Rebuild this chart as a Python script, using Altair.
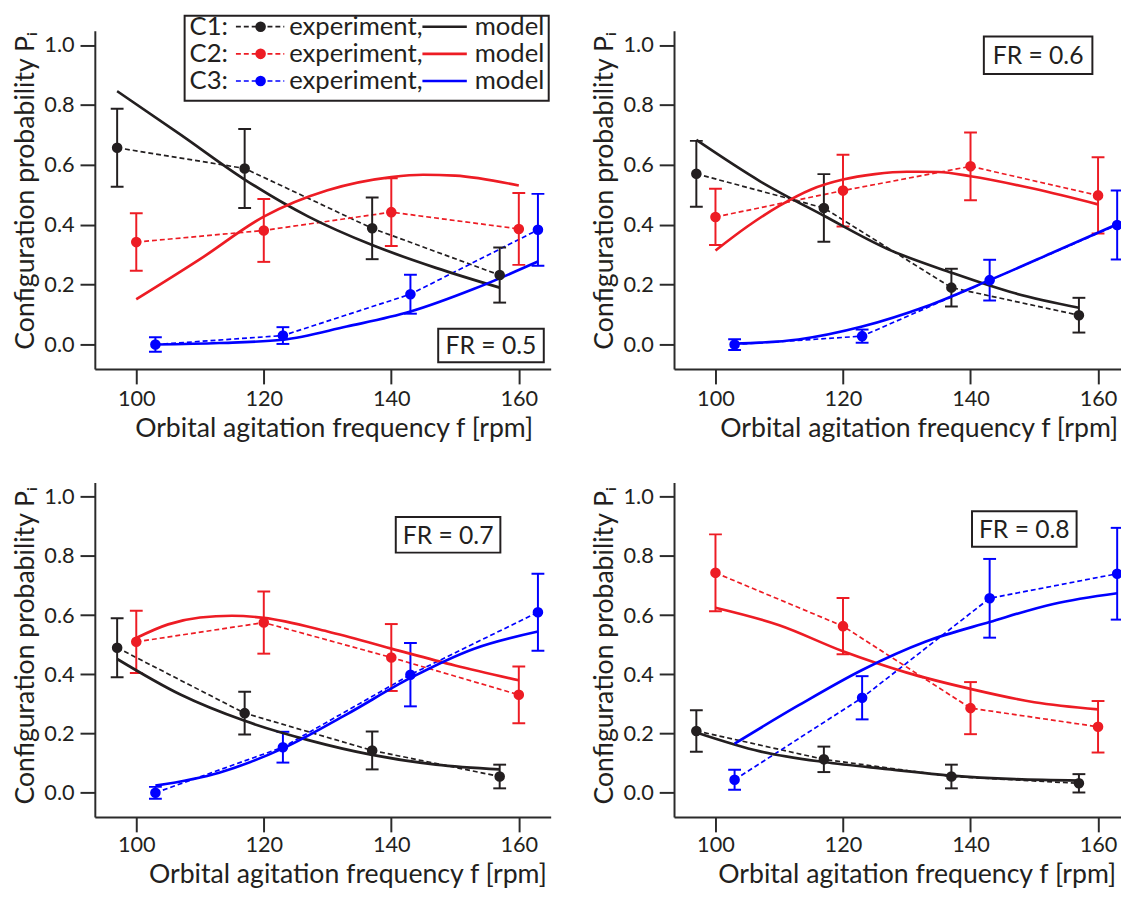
import altair as alt
import pandas as pd

# ---------------- data ----------------
CONFIGS = ["C1", "C2", "C3"]
COLORS = ["#231f20", "#ed1c24", "#0000ff"]
FR_LABELS = ["FR = 0.5", "FR = 0.6", "FR = 0.7", "FR = 0.8"]

# experiment frequencies (rpm) as plotted (C1/C3 slightly shifted)
F_C1 = [97, 117, 137, 157]
F_C2 = [100, 120, 140, 160]
F_C3 = [103, 123, 143, 163]

# FR = 0.5
EXP05_C1 = [0.657, 0.588, 0.388, 0.232]
ERR05_C1 = [0.130, 0.132, 0.103, 0.092]
EXP05_C2 = [0.342, 0.381, 0.442, 0.386]
ERR05_C2 = [0.096, 0.105, 0.113, 0.120]
EXP05_C3 = [0.000, 0.030, 0.168, 0.383]
ERR05_C3 = [0.024, 0.028, 0.065, 0.120]
# FR = 0.6
EXP06_C1 = [0.570, 0.456, 0.190, 0.098]
ERR06_C1 = [0.110, 0.113, 0.063, 0.058]
EXP06_C2 = [0.426, 0.514, 0.595, 0.498]
ERR06_C2 = [0.094, 0.120, 0.113, 0.127]
EXP06_C3 = [0.000, 0.028, 0.215, 0.399]
ERR06_C3 = [0.018, 0.022, 0.068, 0.115]
# FR = 0.7
EXP07_C1 = [0.490, 0.269, 0.143, 0.055]
ERR07_C1 = [0.100, 0.072, 0.064, 0.040]
EXP07_C2 = [0.510, 0.575, 0.457, 0.331]
ERR07_C2 = [0.105, 0.105, 0.113, 0.096]
EXP07_C3 = [0.000, 0.154, 0.399, 0.610]
ERR07_C3 = [0.020, 0.052, 0.107, 0.130]
# FR = 0.8
EXP08_C1 = [0.209, 0.113, 0.055, 0.032]
ERR08_C1 = [0.070, 0.043, 0.040, 0.031]
EXP08_C2 = [0.743, 0.563, 0.286, 0.223]
ERR08_C2 = [0.130, 0.095, 0.088, 0.087]
EXP08_C3 = [0.044, 0.321, 0.657, 0.740]
ERR08_C3 = [0.034, 0.073, 0.133, 0.155]

# model curves
MF_C1 = [97, 107, 117, 127, 137, 147, 157]
MF_C3 = [103, 113, 123, 133, 143, 153, 163]
MOD05_C1 = [0.846, 0.700, 0.551, 0.427, 0.332, 0.256, 0.190]
MF05_C2 = [100, 110, 120, 130, 140, 145, 150, 160]
MOD05_C2 = [0.151, 0.285, 0.427, 0.515, 0.559, 0.567, 0.564, 0.531]
MOD05_C3 = [0.000, 0.005, 0.016, 0.060, 0.110, 0.186, 0.277]

MOD06_C1 = [0.683, 0.545, 0.430, 0.319, 0.240, 0.171, 0.123]
MF06_C2 = [100, 105, 110, 115, 120, 125, 130, 135, 140, 150, 160]
MOD06_C2 = [0.314, 0.394, 0.463, 0.518, 0.551, 0.569, 0.577, 0.576, 0.562, 0.520, 0.468]
MOD06_C3 = [0.003, 0.017, 0.060, 0.127, 0.215, 0.308, 0.402]

MOD07_C1 = [0.452, 0.331, 0.243, 0.178, 0.128, 0.095, 0.079]
MF07_C2 = [100, 105, 110, 115, 120, 130, 140, 150, 160]
MOD07_C2 = [0.523, 0.569, 0.592, 0.598, 0.591, 0.545, 0.487, 0.430, 0.380]
MOD07_C3 = [0.024, 0.068, 0.150, 0.265, 0.388, 0.487, 0.545]

MOD08_C1 = [0.204, 0.140, 0.104, 0.080, 0.058, 0.046, 0.041]
MF08_C2 = [100, 110, 120, 130, 140, 150, 160]
MOD08_C2 = [0.625, 0.566, 0.478, 0.406, 0.351, 0.306, 0.282]
MOD08_C3 = [0.166, 0.295, 0.415, 0.511, 0.577, 0.638, 0.674]

PANELS = [
    dict(exp=[EXP05_C1, EXP05_C2, EXP05_C3], err=[ERR05_C1, ERR05_C2, ERR05_C3],
         mf=[MF_C1, MF05_C2, MF_C3], mod=[MOD05_C1, MOD05_C2, MOD05_C3]),
    dict(exp=[EXP06_C1, EXP06_C2, EXP06_C3], err=[ERR06_C1, ERR06_C2, ERR06_C3],
         mf=[MF_C1, MF06_C2, MF_C3], mod=[MOD06_C1, MOD06_C2, MOD06_C3]),
    dict(exp=[EXP07_C1, EXP07_C2, EXP07_C3], err=[ERR07_C1, ERR07_C2, ERR07_C3],
         mf=[MF_C1, MF07_C2, MF_C3], mod=[MOD07_C1, MOD07_C2, MOD07_C3]),
    dict(exp=[EXP08_C1, EXP08_C2, EXP08_C3], err=[ERR08_C1, ERR08_C2, ERR08_C3],
         mf=[MF_C1, MF08_C2, MF_C3], mod=[MOD08_C1, MOD08_C2, MOD08_C3]),
]
EXP_F = [F_C1, F_C2, F_C3]

# ---------------- layout / style ----------------
FONT = "Lato"
TXT = "#231f20"
AX = "#2b2b2b"
H_TOP, H_BOT = 343, 339
WL, WR = 462, 453
XDOM_L = [93.5, 165.0]
XDOM_R = [93.5, 163.6]
YDOM = [-0.082, 1.048]
TITLE_X = [242, 248, 256, 246]
FR_BOX = [  # x0, x1, y0, y1 relative to plot area
    (348, 455, 302, 336),
    (314, 424, 6, 44),
    (305, 411, 35, 71),
    (302, 408, 29, 65),
]

color_scale = alt.Scale(domain=CONFIGS, range=COLORS)


def panel(i):
    d = PANELS[i]
    rows = []
    for c, cfg in enumerate(CONFIGS):
        for f, p, e in zip(EXP_F[c], d["exp"][c], d["err"][c]):
            rows.append(dict(cfg=cfg, f=f, p=p, lo=p - e, hi=p + e))
    exp = pd.DataFrame(rows)
    mrows = []
    for c, cfg in enumerate(CONFIGS):
        for f, p in zip(d["mf"][c], d["mod"][c]):
            mrows.append(dict(cfg=cfg, f=f, p=p))
    mod = pd.DataFrame(mrows)

    left = i % 2 == 0
    xdom = XDOM_L if left else XDOM_R
    bottom_row = i >= 2
    xs = alt.Scale(domain=xdom, nice=False, zero=False)
    ys = alt.Scale(domain=YDOM, nice=False, zero=False)
    xaxis = alt.Axis(values=[100, 120, 140, 160], title="Orbital agitation frequency f [rpm]",
                     titleX=TITLE_X[i],
                     labelPadding=(3 if bottom_row else 5),
                     titlePadding=6)
    yaxis = alt.Axis(values=[0, 0.2, 0.4, 0.6, 0.8, 1.0], format=".1f",
                     title="Configuration probability P\u1d62",
                     titleY=(165 if bottom_row else 162),
                     labelPadding=6, titlePadding=4, minExtent=52, maxExtent=52)
    X = alt.X("f:Q", scale=xs, axis=xaxis)
    Y = alt.Y("p:Q", scale=ys, axis=yaxis)
    col = alt.Color("cfg:N", scale=color_scale, legend=None)

    dashed = alt.Chart(exp).mark_line(strokeDash=[5, 3], strokeWidth=1.7, clip=True).encode(
        x=X, y=Y, color=col)
    stems = alt.Chart(exp).mark_rule(strokeWidth=2, clip=True).encode(
        x=alt.X("f:Q"), y=alt.Y("lo:Q"), y2="hi:Q", color=col)
    cap_lo = alt.Chart(exp).mark_rule(strokeWidth=2, xOffset=-6.5, x2Offset=6.5, clip=True).encode(
        x=alt.X("f:Q"), x2="f:Q", y=alt.Y("lo:Q"), color=col)
    cap_hi = alt.Chart(exp).mark_rule(strokeWidth=2, xOffset=-6.5, x2Offset=6.5, clip=True).encode(
        x=alt.X("f:Q"), x2="f:Q", y=alt.Y("hi:Q"), color=col)
    model = alt.Chart(mod).mark_line(strokeWidth=2.7, interpolate="monotone", clip=True).encode(
        x=alt.X("f:Q"), y=alt.Y("p:Q"), color=col)
    pts = alt.Chart(exp).mark_circle(size=115, opacity=1, clip=True).encode(
        x=alt.X("f:Q"), y=alt.Y("p:Q"), color=col)

    one = pd.DataFrame({"k": [0]})
    x0, x1, y0, y1 = FR_BOX[i]
    box = alt.Chart(one).mark_rect(fill="white", stroke=TXT, strokeWidth=2).encode(
        x=alt.value(x0), x2=alt.value(x1), y=alt.value(y0), y2=alt.value(y1))
    boxt = alt.Chart(one).mark_text(text=FR_LABELS[i], font=FONT, fontSize=25, color=TXT,
                                     align="center", baseline="middle").encode(
        x=alt.value((x0 + x1) / 2), y=alt.value((y0 + y1) / 2 + 1))

    layers = [dashed, stems, cap_lo, cap_hi, model, pts, box, boxt]

    if i == 0:
        lb = alt.Chart(one).mark_rect(fill="white", stroke=TXT, strokeWidth=2).encode(
            x=alt.value(91), x2=alt.value(460), y=alt.value(-15), y2=alt.value(71))
        layers.append(lb)
        for r, cfg in enumerate(CONFIGS):
            yy = -4 + r * 27.5
            layers += [
                alt.Chart(one).mark_text(text=cfg + ":", font=FONT, fontSize=26, color=TXT,
                                         align="left", baseline="middle").encode(
                    x=alt.value(96), y=alt.value(yy)),
                alt.Chart(one).mark_rule(strokeDash=[5, 3], strokeWidth=1.7, color=COLORS[r]).encode(
                    x=alt.value(143), x2=alt.value(192), y=alt.value(yy)),
                alt.Chart(one).mark_circle(size=115, opacity=1, color=COLORS[r]).encode(
                    x=alt.value(168), y=alt.value(yy)),
                alt.Chart(one).mark_text(text="experiment,", font=FONT, fontSize=26, color=TXT,
                                         align="left", baseline="middle").encode(
                    x=alt.value(197), y=alt.value(yy)),
                alt.Chart(one).mark_rule(strokeWidth=2.7, color=COLORS[r]).encode(
                    x=alt.value(332), x2=alt.value(377), y=alt.value(yy)),
                alt.Chart(one).mark_text(text="model", font=FONT, fontSize=26, color=TXT,
                                         align="left", baseline="middle").encode(
                    x=alt.value(385), y=alt.value(yy)),
            ]

    return alt.layer(*layers).properties(width=WL if left else WR,
                                         height=H_BOT if bottom_row else H_TOP)


top = alt.hconcat(panel(0), panel(1), spacing=41)
bot = alt.hconcat(panel(2), panel(3), spacing=41)
chart = alt.vconcat(top, bot, spacing=42).properties(
    padding={"left": 4, "top": 0, "right": 0, "bottom": 0}
).configure(font=FONT).configure_view(stroke=None).configure_axis(
    grid=False,
    domainColor=AX, domainWidth=2,
    tickColor=AX, tickWidth=2, tickSize=15,
    labelFont=FONT, labelFontSize=22, labelColor=TXT,
    titleFont=FONT, titleFontSize=27, titleFontWeight="normal", titleColor=TXT,
)

chart.save("out.html", embed_options={"renderer": "svg", "actions": False})
